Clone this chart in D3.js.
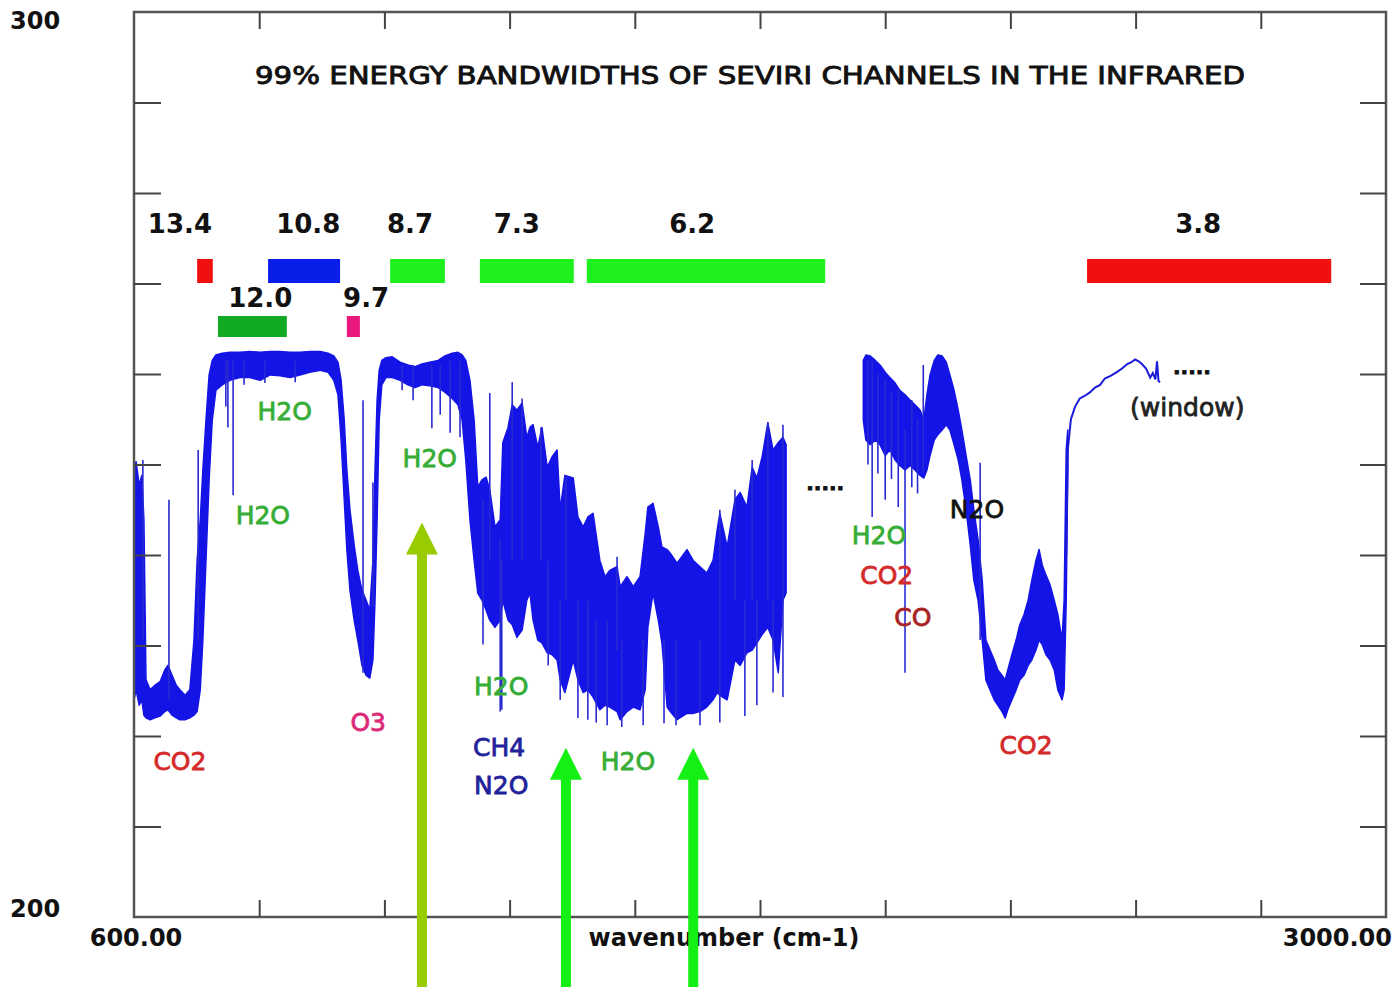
<!DOCTYPE html>
<html>
<head>
<meta charset="utf-8">
<script src="https://cdn.jsdelivr.net/npm/d3@7"></script>
<style>
  html, body { margin: 0; padding: 0; background: #fff; }
  svg { display: block; }
  text { font-family: "DejaVu Sans", sans-serif; }
</style>
</head>
<body>
<svg id="chart" width="1395" height="987"></svg>
<script>
// axis
const xDomain = [600, 3000];
const yDomain = [200, 300];
const xTicks = [840, 1080, 1320, 1560, 1800, 2040, 2280, 2520, 2760];
const yTicks = [210, 220, 230, 240, 250, 260, 270, 280, 290];

// spectrum, part 1 (600 - 1850 cm-1): wavenumber, upper and lower edge (K)
const seg1Wn = [600, 604, 610, 615, 619, 623, 631, 640, 650, 659, 665, 673, 681, 688, 698, 707, 715, 721, 727, 732,
  738, 744, 750, 757, 769, 784, 803, 822, 842, 861, 880, 899, 918, 937, 957, 972, 983, 991, 997, 1003,
  1008, 1014, 1022, 1029, 1037, 1045, 1052, 1058, 1062, 1066, 1070, 1075, 1083, 1095, 1110, 1125, 1139, 1152, 1167, 1183,
  1196, 1210, 1221, 1229, 1236, 1244, 1252, 1259, 1267, 1275, 1282, 1292, 1302, 1307, 1317, 1325, 1334, 1344, 1353, 1359,
  1365, 1374, 1382, 1392, 1401, 1411, 1417, 1426, 1442, 1451, 1461, 1470, 1480, 1493, 1503, 1512, 1526, 1532, 1545, 1557,
  1570, 1580, 1585, 1595, 1605, 1612, 1622, 1628, 1641, 1660, 1672, 1685, 1698, 1710, 1718, 1723, 1737, 1752, 1762, 1775,
  1785, 1794, 1804, 1815, 1825, 1835, 1844, 1850];
const seg1Hi = [249.4, 250.3, 247.7, 248.8, 243.9, 226.2, 225.1, 225.6, 226.0, 227.3, 227.8, 226.7, 225.6, 225.1, 224.5, 225.1, 230.6, 239.4, 243.9, 249.4,
  254.9, 259.9, 261.5, 262.1, 262.3, 262.4, 262.4, 262.5, 262.4, 262.5, 262.5, 262.4, 262.4, 262.5, 262.5, 262.3, 262.0, 261.3, 259.3, 254.9,
  249.4, 245.0, 241.1, 238.3, 236.1, 235.0, 233.9, 239.4, 249.4, 257.1, 260.4, 261.5, 261.8, 261.9, 261.3, 261.0, 260.8, 261.1, 261.3, 261.5,
  262.0, 262.3, 262.4, 262.1, 261.5, 259.3, 254.9, 247.5, 248.3, 248.6, 247.2, 243.1, 243.9, 252.4, 254.1, 256.6, 256.0, 256.8, 253.0, 254.1,
  254.4, 251.9, 254.1, 249.7, 250.8, 251.6, 245.0, 248.8, 248.5, 244.2, 243.1, 244.2, 244.6, 239.4, 237.6, 238.3, 238.7, 236.5, 237.6, 236.5,
  237.6, 242.4, 245.3, 245.7, 243.1, 240.9, 240.6, 240.2, 239.1, 240.6, 239.4, 238.7, 238.0, 239.4, 242.8, 244.6, 240.9, 246.1, 246.9, 245.3,
  249.7, 248.5, 250.8, 254.6, 251.6, 252.4, 253.0, 252.2];
const seg1Lo = [224.0, 225.1, 223.4, 224.0, 222.3, 222.0, 221.8, 222.0, 222.2, 222.7, 222.9, 222.3, 222.0, 221.8, 221.8, 222.0, 222.3, 222.7, 225.1, 230.6,
  239.4, 248.3, 254.9, 258.2, 258.8, 259.3, 259.6, 259.6, 259.3, 259.9, 259.8, 259.6, 259.9, 260.2, 260.4, 260.2, 259.3, 257.7, 252.7, 246.1,
  240.6, 236.1, 232.8, 230.6, 227.8, 226.7, 226.4, 228.4, 235.0, 243.9, 254.9, 258.8, 259.6, 259.6, 259.3, 258.8, 258.5, 258.8, 258.7, 258.5,
  258.0, 257.3, 256.6, 254.9, 250.5, 243.9, 239.4, 235.8, 235.0, 233.9, 232.8, 232.0, 232.8, 235.0, 232.8, 232.3, 230.9, 231.7, 235.0, 235.8,
  232.8, 230.6, 230.3, 229.2, 229.0, 228.4, 226.2, 224.8, 228.4, 226.2, 224.8, 225.1, 224.3, 222.9, 223.4, 223.2, 222.7, 221.8, 222.7, 223.2,
  222.9, 225.1, 232.0, 235.8, 232.8, 230.3, 223.2, 222.7, 221.8, 222.5, 222.5, 222.7, 223.2, 224.0, 224.8, 224.5, 224.0, 228.4, 227.8, 229.2,
  229.5, 230.3, 231.2, 232.0, 230.6, 227.0, 235.0, 235.8];

// spectrum, part 2 (2000 - 2390 cm-1)
const seg2Wn = [1998, 2003, 2011, 2021, 2030, 2040, 2049, 2059, 2068, 2078, 2088, 2097, 2107, 2114, 2120, 2126, 2134, 2141, 2149, 2157,
  2164, 2172, 2180, 2187, 2195, 2203, 2210, 2218, 2226, 2233, 2241, 2249, 2256, 2264, 2270, 2275, 2283, 2291, 2298, 2306,
  2314, 2321, 2329, 2335, 2341, 2348, 2356, 2364, 2371, 2379, 2383, 2387, 2390];
const seg2Hi = [261.5, 262.1, 262.0, 261.5, 261.0, 260.2, 259.6, 259.0, 258.2, 257.7, 257.1, 256.6, 256.0, 254.9, 257.7, 259.9, 261.5, 262.1, 262.0, 261.3,
  259.9, 258.2, 256.0, 253.8, 251.0, 248.3, 245.0, 241.7, 237.2, 230.6, 229.5, 228.4, 227.3, 226.7, 226.2, 227.3, 229.0, 230.6, 232.3, 233.4,
  235.0, 237.2, 239.4, 240.6, 238.9, 237.8, 236.7, 235.0, 233.4, 230.6, 235.0, 251.6, 253.8];
const seg2Lo = [254.9, 252.7, 252.2, 252.7, 252.2, 251.0, 251.6, 250.5, 249.9, 249.4, 249.9, 249.4, 248.8, 248.5, 249.4, 251.0, 252.7, 253.3, 253.8, 254.4,
  253.8, 252.2, 250.5, 248.3, 245.0, 241.1, 237.2, 235.0, 230.6, 226.2, 225.1, 224.0, 223.4, 222.7, 222.0, 222.9, 224.0, 225.1, 226.2, 226.7,
  227.8, 228.4, 229.5, 230.6, 230.1, 229.0, 228.4, 227.3, 225.1, 224.0, 225.1, 235.0, 249.4];

// window part (2390 - 2570 cm-1), a single curve
const winWn = [2387, 2390, 2396, 2404, 2413, 2423, 2433, 2442, 2452, 2461, 2472, 2484, 2494, 2504, 2512, 2519, 2526, 2532, 2540, 2548, 2553, 2558, 2561, 2564, 2567];
const winT = [240.0, 251.6, 255.0, 256.4, 257.3, 257.6, 258.0, 258.5, 258.8, 259.5, 259.8, 260.2, 260.6, 261.1, 261.3, 261.6, 261.4, 261.1, 260.6, 259.6, 260.1, 259.4, 261.4, 259.2, 259.1];

// single absorption lines: wavenumber, top and bottom (K)
const lineWn = [617, 667, 723, 776, 780, 790, 811, 851, 909, 1039, 1058, 1114, 1135, 1171, 1187, 1206, 1225,
  1269, 1282, 1302, 1305, 1325, 1344, 1380, 1394, 1417, 1428, 1451, 1470, 1486, 1507, 1526, 1535, 1576, 1616,
  1639, 1685, 1723, 1752, 1771, 1785, 1794, 1815, 1825, 1844,
  2007, 2015, 2026, 2040, 2052, 2065, 2078, 2091, 2102, 2113, 2222];
const lineTop = [250.5, 246.1, 251.6, 261.5, 261.5, 261.5, 261.5, 261.5, 261.5, 257.1, 248.0, 261.0, 261.0, 261.0, 261.0, 261.5, 261.5,
  246.1, 257.9, 241.7, 239.4, 259.1, 257.3, 254.1, 239.4, 235.0, 248.8, 235.0, 235.0, 232.8, 232.8, 239.8, 230.6, 230.6, 230.6,
  230.6, 230.6, 245.0, 247.2, 235.0, 250.5, 235.0, 254.7, 235.0, 254.4,
  261.5, 261.5, 260.0, 259.3, 258.0, 258.2, 253.8, 257.1, 255.0, 261.0, 250.2];
const lineBottom = [230.6, 224.0, 230.6, 256.4, 254.1, 246.6, 258.8, 259.0, 259.1, 227.0, 234.3, 258.2, 257.1, 254.0, 255.5, 253.5, 253.0,
  230.1, 239.4, 222.7, 222.9, 239.4, 239.4, 239.4, 227.8, 224.0, 235.0, 222.0, 221.8, 221.5, 221.2, 229.5, 221.0, 221.2, 221.4,
  221.2, 221.2, 221.5, 235.0, 222.2, 235.0, 223.4, 235.0, 224.8, 224.3,
  250.0, 244.2, 249.0, 246.1, 248.4, 245.3, 227.0, 247.5, 246.8, 249.1, 230.6];

// SEVIRI channels: name, band edges (cm-1), label position (cm-1), row
const chanName = ["13.4", "10.8", "8.7", "7.3", "6.2", "3.8", "12.0", "9.7"];
const chanLo = [721, 857, 1091, 1263, 1468, 2427, 761, 1008];
const chanHi = [751, 995, 1196, 1443, 1925, 2895, 893, 1033];
const chanLabelWn = [688, 934, 1129, 1334, 1670, 2640, 842, 1045];
const chanRow = [0, 0, 0, 0, 0, 0, 1, 1];
const chanColor = ["#f01010", "#0a1eea", "#1ef01e", "#1ef01e", "#1ef01e", "#f01010", "#12aa22", "#e8187c"];

// absorber labels
const gasText = ["H2O", "H2O", "H2O", "CO2", "O3", "H2O", "CH4", "N2O", "H2O", "H2O", "CO2", "CO", "N2O", "CO2", "(window)", ".....", "....."];
const gasWn = [889, 847, 1167, 688, 1049, 1304, 1300, 1304, 1547, 2028, 2043, 2093, 2216, 2310, 2619, 1925, 2628];
const gasT = [255.9, 244.4, 250.7, 217.2, 221.5, 225.5, 218.8, 214.6, 217.2, 242.2, 237.8, 233.1, 245.1, 219.0, 256.4, 248.0, 260.8];
const gasColor = ["#36ad36", "#36ad36", "#36ad36", "#d42a2a", "#dd2a78", "#36ad36", "#22229a", "#22229a", "#36ad36",
  "#36ad36", "#d42a2a", "#a82424", "#111111", "#d42a2a", "#222222", "#111111", "#111111"];

// arrows: wavenumber and tip (K)
const arrowWn = [1152, 1428, 1672];
const arrowTip = [243.6, 218.7, 218.7];
const arrowColor = ["#99cc00", "#14f014", "#14f014"];

const svg = d3.select("#chart");
const width = +svg.attr("width"), height = +svg.attr("height");

let x = d3.scaleLinear().domain(xDomain).range([134, 1386]);
let y = d3.scaleLinear().domain(yDomain).range([917, 12]);

svg.append("rect").attr("width", width).attr("height", height).attr("fill", "#fff");

// title
svg.append("text")
  .attr("x", 750).attr("y", 84)
  .attr("text-anchor", "middle")
  .attr("font-size", 25)
  .attr("fill", "#111")
  .attr("stroke", "#111")
  .attr("stroke-width", 0.9)
  .attr("textLength", 990)
  .attr("lengthAdjust", "spacingAndGlyphs")
  .text("99% ENERGY BANDWIDTHS OF SEVIRI CHANNELS IN THE INFRARED");

// spectrum
let area = d3.area()
  .x(d => x(d[0]))
  .y0(d => y(d[2]))
  .y1(d => y(d[1]));

[[seg1Wn, seg1Hi, seg1Lo], [seg2Wn, seg2Hi, seg2Lo]].forEach(function (s) {
  svg.append("path")
    .datum(d3.zip(s[0], s[1], s[2]))
    .attr("d", area)
    .attr("fill", "#1414e6")
    .attr("stroke", "#1414e6")
    .attr("stroke-width", 1.5)
    .attr("stroke-linejoin", "round");
});

svg.append("path")
  .datum(d3.zip(winWn, winT))
  .attr("d", d3.line().x(d => x(d[0])).y(d => y(d[1])))
  .attr("fill", "none")
  .attr("stroke", "#1a1ad8")
  .attr("stroke-width", 2);

svg.append("g").selectAll("line")
  .data(d3.zip(lineWn, lineTop, lineBottom))
  .join("line")
  .attr("x1", d => x(d[0])).attr("x2", d => x(d[0]))
  .attr("y1", d => y(d[1])).attr("y2", d => y(d[2]))
  .attr("stroke", "#2a2ad2")
  .attr("stroke-width", 1.6);

// channel bars
const rowTop = [259, 316], rowH = [24, 21], rowLabelY = [233, 307];
let chans = d3.zip(chanName, chanLo, chanHi, chanLabelWn, chanRow, chanColor);

svg.append("g").selectAll("rect")
  .data(chans)
  .join("rect")
  .attr("x", d => x(d[1]))
  .attr("width", d => x(d[2]) - x(d[1]))
  .attr("y", d => rowTop[d[4]])
  .attr("height", d => rowH[d[4]])
  .attr("fill", d => d[5]);

svg.append("g").selectAll("text")
  .data(chans)
  .join("text")
  .attr("x", d => x(d[3]))
  .attr("y", d => rowLabelY[d[4]])
  .attr("text-anchor", "middle")
  .attr("font-size", 26)
  .attr("font-weight", "bold")
  .attr("fill", "#111")
  .text(d => d[0]);

// absorber labels
svg.append("g").selectAll("text")
  .data(d3.zip(gasText, gasWn, gasT, gasColor))
  .join("text")
  .attr("x", d => x(d[1]))
  .attr("y", d => y(d[2]))
  .attr("dy", "0.36em")
  .attr("text-anchor", "middle")
  .attr("font-size", d => d[0] === "....." ? 20 : 25)
  .attr("font-weight", d => d[0] === "....." ? "bold" : "normal")
  .attr("fill", d => d[3])
  .attr("stroke", d => d[3])
  .attr("stroke-width", 0.8)
  .text(d => d[0]);

// frame and ticks
let frame = svg.append("g").attr("stroke", "#555").attr("fill", "none");

svg.append("g").attr("transform", "translate(0,917)")
  .call(d3.axisBottom(x).tickValues(xTicks).tickSizeInner(-17).tickSizeOuter(0).tickFormat(""));
svg.append("g").attr("transform", "translate(0,12)")
  .call(d3.axisTop(x).tickValues(xTicks).tickSizeInner(-17).tickSizeOuter(0).tickFormat(""));
svg.append("g").attr("transform", "translate(134,0)")
  .call(d3.axisLeft(y).tickValues(yTicks).tickSizeInner(-27).tickSizeOuter(0).tickFormat(""));
svg.append("g").attr("transform", "translate(1386,0)")
  .call(d3.axisRight(y).tickValues(yTicks).tickSizeInner(-26).tickSizeOuter(0).tickFormat(""));

svg.selectAll(".domain").remove();
svg.selectAll(".tick line").attr("stroke", "#444").attr("stroke-width", 2);

frame.append("rect")
  .attr("x", x(xDomain[0])).attr("y", y(yDomain[1]))
  .attr("width", x(xDomain[1]) - x(xDomain[0]))
  .attr("height", y(yDomain[0]) - y(yDomain[1]))
  .attr("stroke-width", 2.5);

// axis labels
function label(tx, ty, str, anchor) {
  svg.append("text")
    .attr("x", tx).attr("y", ty)
    .attr("text-anchor", anchor)
    .attr("font-size", 24)
    .attr("font-weight", "bold")
    .attr("fill", "#111")
    .text(str);
}
label(10, 29, yDomain[1], "start");
label(10, 917, yDomain[0], "start");
label(x(xDomain[0]) + 2, 946, xDomain[0].toFixed(2), "middle");
label(1392, 946, xDomain[1].toFixed(2), "end");
label(724, 946, "wavenumber (cm-1)", "middle");

// arrows
svg.append("g").selectAll("path")
  .data(d3.zip(arrowWn, arrowTip, arrowColor))
  .join("path")
  .attr("d", function (d) {
    let cx = x(d[0]), ty = y(d[1]);
    return "M" + cx + "," + ty +
      "L" + (cx + 16) + "," + (ty + 32) +
      "L" + (cx + 5) + "," + (ty + 32) +
      "L" + (cx + 5) + "," + height +
      "L" + (cx - 5) + "," + height +
      "L" + (cx - 5) + "," + (ty + 32) +
      "L" + (cx - 16) + "," + (ty + 32) + "Z";
  })
  .attr("fill", d => d[2]);
</script>
</body>
</html>
